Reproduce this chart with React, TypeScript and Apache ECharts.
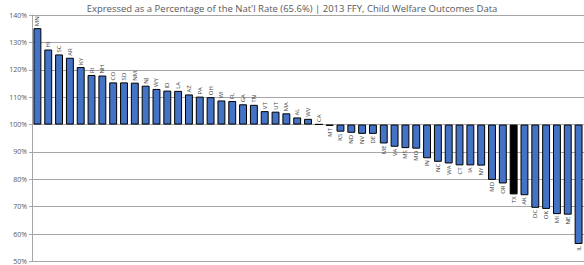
import React, { useEffect, useRef } from "react";
import * as echarts from "echarts";

const states = ["MN","HI","SC","AR","KY","RI","NH","CO","SD","NM","NJ","WY","ID","LA","AZ","PA","OH","WI","FL","GA","TN","VT","UT","MA","AL","WV","CA","MT","KS","ND","NV","DE","ME","VA","MS","MO","IN","NC","WA","CT","IA","NY","MD","OR","TX","AK","DC","OK","MI","NE","IL"];
const pctOfNational = [135.2,127.4,125.6,124.4,121.0,118.1,117.9,115.4,115.4,115.3,114.2,113.0,112.4,112.3,111.0,110.2,110.0,108.8,108.6,107.4,107.2,104.9,104.7,104.1,102.6,102.1,100.1,99.5,97.4,97.0,96.6,96.6,93.1,91.9,91.4,91.2,87.7,86.4,85.8,85.1,85.1,85.0,79.8,78.5,74.5,74.2,69.6,69.2,67.3,67.1,56.4];
const highlighted = ["TX"];
const baseline = 100;
const titleText = "Expressed as a Percentage of the Nat'l Rate (65.6%) | 2013 FFY, Child Welfare Outcomes Data";

export default function App() {
  const ref = useRef<HTMLDivElement>(null);
  useEffect(() => {
    const chart = echarts.init(ref.current!, null, { renderer: "svg" });
    const data = states.map((s, i) => {
      const v = +(pctOfNational[i] - baseline).toFixed(2);
      const pos = v >= 0;
      return {
        value: v,
        itemStyle: highlighted.includes(s) ? { color: "#000000" } : undefined,
        label: {
          position: pos ? "top" : "bottom",
          align: pos ? "left" : "right",
        },
      };
    });
    chart.setOption({
      animation: false,
      title: {
        text: titleText,
        left: "center",
        top: -2,
        textStyle: { fontSize: 9.5, fontWeight: "normal", color: "#595959", fontFamily: "Open Sans" },
      },
      grid: { left: 32, right: -1, top: 15, bottom: -2, containLabel: false },
      xAxis: {
        type: "category",
        data: states,
        axisLine: { show: false },
        axisTick: { show: false },
        axisLabel: { show: false },
        splitLine: { show: false },
      },
      yAxis: {
        type: "value",
        min: -50,
        max: 40,
        interval: 10,
        axisLine: { show: true, lineStyle: { color: "#a6a6a6", width: 1 } },
        axisTick: { show: true, length: 3, lineStyle: { color: "#a6a6a6" } },
        axisLabel: {
          formatter: (v: number) => `${v + baseline}%`,
          fontSize: 7,
          color: "#595959",
          margin: 5,
          fontFamily: "Open Sans",
        },
        splitLine: { show: true, lineStyle: { color: "#a6a6a6", width: 1 } },
      },
      series: [
        {
          type: "bar",
          data,
          barCategoryGap: "27%",
          itemStyle: { color: "#4472C4", borderColor: "#000000", borderWidth: 1 },
          label: {
            show: true,
            formatter: (p: any) => states[p.dataIndex],
            rotate: 90,
            verticalAlign: "middle",
            distance: 2,
            fontSize: 6,
            color: "#404040",
            fontFamily: "Open Sans",
          },
        },
      ],
    });
    return () => chart.dispose();
  }, []);
  return (
    <div
      ref={ref}
      style={{ position: "absolute", left: 0, top: 0, width: 584, height: 265 }}
    />
  );
}
